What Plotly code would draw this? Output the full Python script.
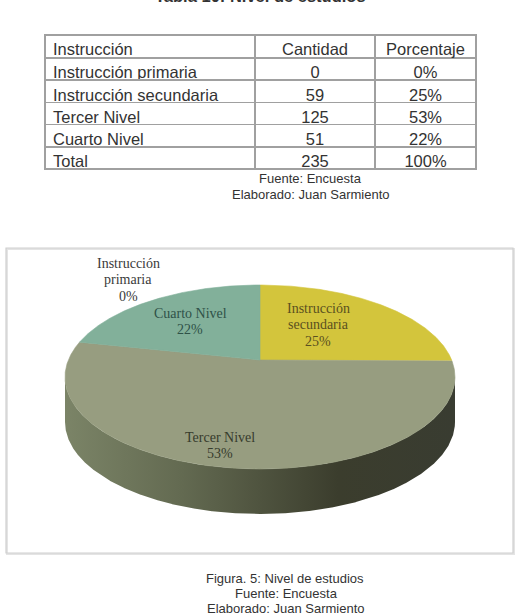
import math
import plotly.graph_objects as go

# ---------------- data ----------------
categories = ["Instrucción primaria", "Instrucción secundaria", "Tercer Nivel", "Cuarto Nivel"]
counts = [0, 59, 125, 51]
pie_label_lines = [["Instrucción", "primaria"], ["Instrucción", "secundaria"], ["Tercer Nivel"], ["Cuarto Nivel"]]
table_headers = ["Instrucción", "Cantidad", "Porcentaje"]
total_label = "Total"

total = sum(counts)
pcts = [round(100 * c / total) for c in counts]

# ---------------- style / layout ----------------
W, H = 519, 613
slice_colors = ["#8fb8a5", "#d3c53c", "#979d80", "#82b09a"]
label_colors = ["#3a3a3a", "#5a5020", "#363b2c", "#2f5248"]
label_pos = [(128, 263), (318, 308), (220, 437), (190, 313)]   # first-line centre of each label
LINE_H = 16.5
CX, CY, RX, RY = 260, 377, 195, 92        # ellipse of the pie's top face
AX, AY = 260, 360                          # projected pie centre
K = 0.47                                   # vertical squash of ray directions
DEPTH = 45
TEXT = "#333333"
SERIF = "Liberation Serif, Times New Roman, serif"
SANS = "Liberation Sans, Arial, sans-serif"


def rim_point(theta_deg):
    t = math.radians(theta_deg)
    dx, dy = math.sin(t), -K * math.cos(t)
    a0, b0 = (AX - CX) / RX, (AY - CY) / RY
    a1, b1 = dx / RX, dy / RY
    qa = a1 * a1 + b1 * b1
    qb = 2 * (a0 * a1 + b0 * b1)
    qc = a0 * a0 + b0 * b0 - 1
    s = (-qb + math.sqrt(qb * qb - 4 * qa * qc)) / (2 * qa)
    return AX + s * dx, AY + s * dy


fig = go.Figure()

# slice angles (clockwise from 12 o'clock)
angles = []
start = 0.0
for c in counts:
    span = 360.0 * c / total
    angles.append((start, start + span))
    start += span

# side walls (front half only)
for i, (a0, a1) in enumerate(angles):
    if a1 - a0 <= 0:
        continue
    n = max(2, int((a1 - a0) * 12))
    pts = [rim_point(a0 + (a1 - a0) * j / n) for j in range(n + 1)]
    front = [p for p in pts if p[1] >= CY - 0.01]
    if len(front) < 2:
        continue
    xs = [p[0] for p in front] + [p[0] for p in reversed(front)] + [front[0][0]]
    ys = [p[1] for p in front] + [p[1] + DEPTH for p in reversed(front)] + [front[0][1]]
    fig.add_trace(go.Scatter(
        x=xs, y=ys, mode="lines", fill="toself",
        line=dict(width=0, color="rgba(0,0,0,0)"),
        fillgradient=dict(type="horizontal",
                          colorscale=[[0, "#7b8467"], [0.3, "#636a51"], [0.7, "#3b3d2d"], [1, "#393c31"]]),
        hoverinfo="skip", showlegend=False))

# top faces
for i, (a0, a1) in enumerate(angles):
    if a1 - a0 <= 0:
        continue
    n = max(2, int((a1 - a0) * 4))
    pts = [rim_point(a0 + (a1 - a0) * j / n) for j in range(n + 1)]
    xs = [AX] + [p[0] for p in pts] + [AX]
    ys = [AY] + [p[1] for p in pts] + [AY]
    fig.add_trace(go.Scatter(
        x=xs, y=ys, mode="lines", fill="toself", fillcolor=slice_colors[i],
        line=dict(width=0.6, color=slice_colors[i]),
        hoverinfo="skip", showlegend=False))

# pie labels
annotations = []
for i, lines in enumerate(pie_label_lines):
    all_lines = lines + [f"{pcts[i]}%"]
    x0, y0 = label_pos[i]
    for j, t in enumerate(all_lines):
        annotations.append(dict(x=x0, y=y0 + j * LINE_H, xref="x", yref="y", text=t,
                                showarrow=False, xanchor="center", yanchor="middle",
                                font=dict(family=SERIF, size=14, color=label_colors[i])))

# table
col1 = categories + [total_label]
col2 = [str(c) for c in counts] + [str(total)]
col3 = [f"{p}%" for p in pcts] + ["100%"]
fig.add_trace(go.Table(
    domain=dict(x=[45 / W, 476 / W], y=[1 - 171 / H, 1 - 35 / H]),
    columnwidth=[210, 120, 101],
    header=dict(values=table_headers, align=["left", "center", "center"], height=23,
                fill_color="white", line=dict(color="#a0a0a0", width=1.5),
                font=dict(family=SANS, size=16.5, color=TEXT)),
    cells=dict(values=[col1, col2, col3], align=["left", "center", "center"], height=22.2,
               fill_color="white", line=dict(color="#a0a0a0", width=1.5),
               font=dict(family=SANS, size=16.5, color=TEXT)),
))

# captions
annotations.append(dict(x=260 / W, y=1 + 4 / H, xref="paper", yref="paper",
                        text="<b>Tabla 10: Nivel de estudios</b>", showarrow=False,
                        xanchor="center", yanchor="middle",
                        font=dict(family=SANS, size=16.5, color=TEXT)))
captions = [
    ("Fuente: Encuesta", 310.5, 178, 13),
    ("Elaborado: Juan Sarmiento", 311, 194, 13),
    ("Figura. 5: Nivel de estudios", 285, 578, 13),
    ("Fuente: Encuesta", 286, 593, 13),
    ("Elaborado: Juan Sarmiento", 286, 608, 13),
]
for t, x, y, s in captions:
    annotations.append(dict(x=x, y=y, xref="x", yref="y", text=t, showarrow=False,
                            xanchor="center", yanchor="middle",
                            font=dict(family=SANS, size=s, color=TEXT)))

fig.update_layout(
    width=W, height=H, margin=dict(l=0, r=0, t=0, b=0),
    paper_bgcolor="white", plot_bgcolor="white",
    xaxis=dict(range=[0, W], visible=False, fixedrange=True),
    yaxis=dict(range=[H, 0], visible=False, fixedrange=True),
    annotations=annotations,
    shapes=[
        dict(type="rect", xref="x", yref="y", x0=7, y0=249, x1=514, y1=554,
             line=dict(color="#e4e4e4", width=2), layer="below"),
        dict(type="rect", xref="x", yref="y", x0=6, y0=248, x1=513, y1=553,
             line=dict(color="#cfcfcf", width=1.2), layer="below"),
    ],
    showlegend=False,
)

fig.write_html("out.html")
